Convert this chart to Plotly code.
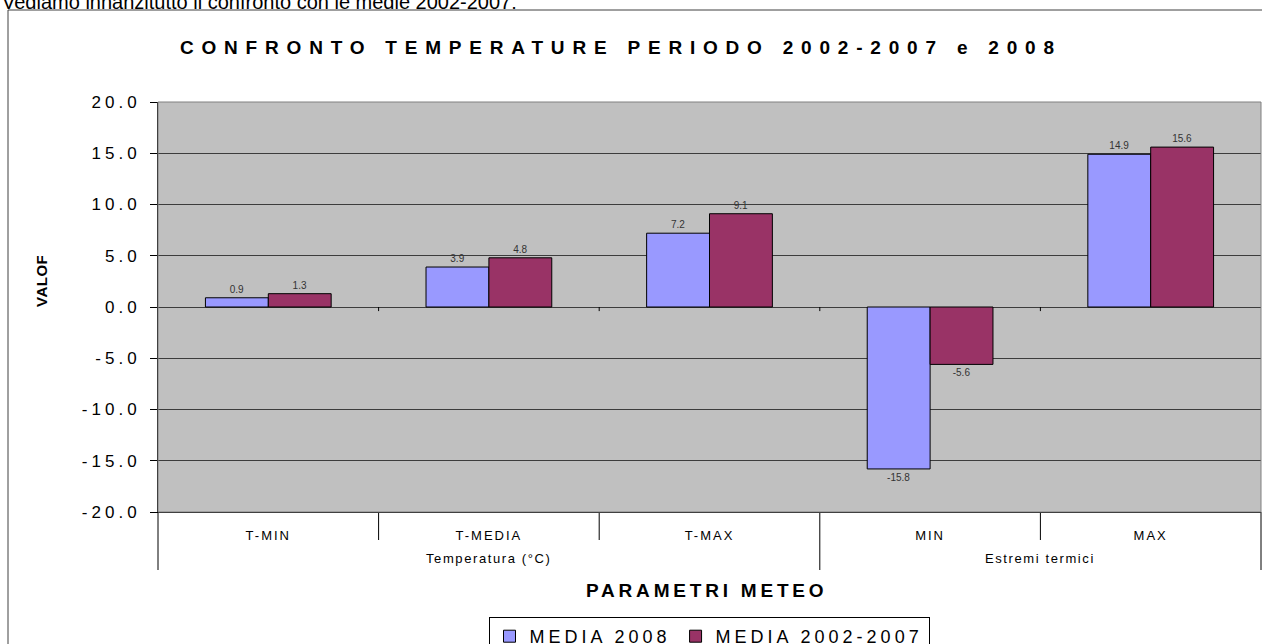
import plotly.graph_objects as go

# dati
parametri = ["T-MIN", "T-MEDIA", "T-MAX", "MIN", "MAX"]
gruppi = ["Temperatura (°C)", "Estremi termici"]
n_per_gruppo = [3, 2]
media_2008 = [0.9, 3.9, 7.2, -15.8, 14.9]
media_2002_2007 = [1.3, 4.8, 9.1, -5.6, 15.6]
y_ticks = [-20, -15, -10, -5, 0, 5, 10, 15, 20]

FONT = "Arial, Liberation Sans, sans-serif"
BLU = "#9999ff"
BORDEAUX = "#993366"

# geometria in pixel (finestra 1262x644)
W, H = 1262, 644
L, R, T, B = 158, 1, 102, 132
PW, PH = W - L - R, H - T - B


def px(x):
    return (x - L) / PW


def py(y):
    return (H - B - y) / PH


def spaced(text, sp):
    return f'<span style="letter-spacing:{sp}px">{text}</span>'


fig = go.Figure()
for nome, valori, colore in [
    ("MEDIA 2008", media_2008, BLU),
    ("MEDIA 2002-2007", media_2002_2007, BORDEAUX),
]:
    fig.add_bar(
        x=parametri, y=valori, name=spaced(nome, 4),
        marker=dict(color=colore, line=dict(color="#000000", width=1)),
        text=[f"{v:.1f}" for v in valori], textposition="outside",
        textfont=dict(size=10, color="#333333", family=FONT), cliponaxis=False,
        hoverinfo="skip",
    )

n = len(parametri)
# piccoli tick dell'asse categorie sulla linea dello zero
for k in range(1, n):
    fig.add_shape(
        type="line", xref="paper", yref="y", x0=k / n, x1=k / n, y0=0, y1=-0.4,
        line=dict(color="#000000", width=1),
    )
# separatori delle etichette sotto l'asse
confini_gruppi = [0]
for c in n_per_gruppo:
    confini_gruppi.append(confini_gruppi[-1] + c)
for k in range(n + 1):
    fondo = 570 if k in confini_gruppi else 540
    fig.add_shape(
        type="line", xref="paper", yref="paper", x0=k / n, x1=k / n,
        y0=0, y1=py(fondo), line=dict(color="#000000", width=1),
    )
for g, a, b in zip(gruppi, confini_gruppi[:-1], confini_gruppi[1:]):
    fig.add_annotation(
        text=spaced(g, 1.6), xref="paper", yref="paper",
        x=(a + b) / 2 / n, y=py(558), xanchor="center", yanchor="middle",
        showarrow=False, font=dict(family=FONT, size=13, color="#000000"),
    )

# bordo area del grafico
fig.add_shape(
    type="rect", xref="paper", yref="paper", x0=0, x1=1, y0=0, y1=1,
    line=dict(color="#808080", width=1), layer="above",
)
# cornice del grafico
fig.add_shape(
    type="rect", xref="paper", yref="paper",
    x0=px(8), x1=px(1275), y0=py(660), y1=py(10),
    line=dict(color="#404040", width=1),
)

fig.add_annotation(
    text="Vediamo innanzitutto il confronto con le medie 2002-2007:",
    xref="paper", yref="paper", x=px(0), y=py(2), xanchor="left", yanchor="middle",
    showarrow=False, font=dict(family=FONT, size=20, color="#000000"),
)
fig.add_annotation(
    text=spaced("<b>CONFRONTO TEMPERATURE PERIODO 2002-2007 e 2008</b>", 7.8),
    xref="paper", yref="paper", x=px(621), y=py(47), xanchor="center", yanchor="middle",
    showarrow=False, font=dict(family=FONT, size=19, color="#000000"),
)
fig.add_annotation(
    text=spaced("<b>VALOF</b>", 0.5), textangle=-90,
    xref="paper", yref="paper", x=px(41), y=py(281), xanchor="center", yanchor="middle",
    showarrow=False, font=dict(family=FONT, size=15, color="#000000"),
)
fig.add_annotation(
    text=spaced("<b>PARAMETRI METEO</b>", 3.8),
    xref="paper", yref="paper", x=px(706), y=py(590), xanchor="center", yanchor="middle",
    showarrow=False, font=dict(family=FONT, size=19, color="#000000"),
)

fig.update_layout(
    width=W, height=H,
    margin=dict(l=L, r=R, t=T, b=B, autoexpand=False),
    paper_bgcolor="#ffffff", plot_bgcolor="#c0c0c0",
    barmode="group", bargap=0.43, bargroupgap=0,
    font=dict(family=FONT, size=12, color="#000000"),
    showlegend=True,
    legend=dict(
        orientation="h", x=px(709), y=py(617), xanchor="center", yanchor="top",
        bgcolor="#ffffff", bordercolor="#000000", borderwidth=1,
        font=dict(family=FONT, size=18, color="#000000"),
        itemwidth=30, tracegroupgap=0,
    ),
    xaxis=dict(
        type="category", showgrid=False, showline=True, linecolor="#000000",
        ticks="", tickvals=parametri,
        ticktext=[spaced(p, 2) for p in parametri],
        ticklabelstandoff=11,
        tickfont=dict(family=FONT, size=13, color="#000000"),
    ),
    yaxis=dict(
        range=[-20, 20], tickvals=y_ticks,
        ticktext=[spaced(f"{v:.1f}", 4) for v in y_ticks],
        showgrid=True, gridcolor="#3c3c3c", gridwidth=1,
        zeroline=True, zerolinecolor="#3c3c3c", zerolinewidth=1,
        showline=True, linecolor="#000000", ticks="outside", ticklen=7,
        tickcolor="#000000", ticklabelstandoff=6,
        tickfont=dict(family=FONT, size=17, color="#000000"),
    ),
)

# la pagina di default ha un margine di 8px sul body: lo azzero
fig.write_html(
    "out.html",
    config={"displayModeBar": False},
    post_script="document.body.style.margin = '0';",
)
